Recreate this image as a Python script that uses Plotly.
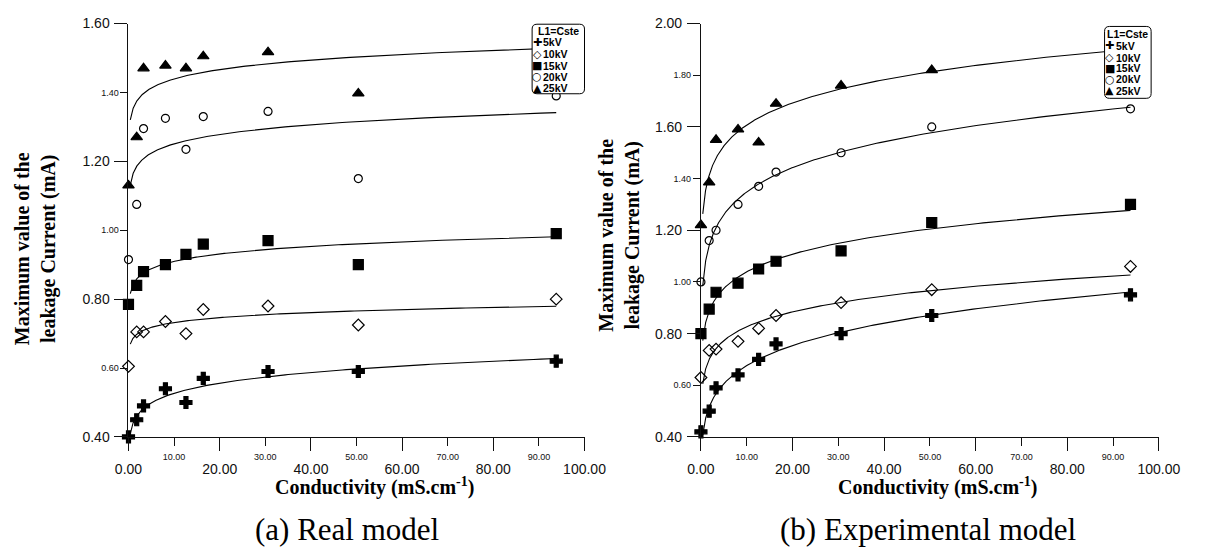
import numpy as np
import plotly.graph_objects as go

W, H = 1210, 555

# Conductivity of the pollution solutions (mS/cm)
conductivity = [0.0, 1.8, 3.3, 8.1, 12.6, 16.4, 30.6, 50.4, 93.8]
series_names = ["5kV", "10kV", "15kV", "20kV", "25kV"]

# (a) Real model: maximum leakage current (mA)
real_5kv = [0.40, 0.45, 0.49, 0.54, 0.50, 0.57, 0.59, 0.59, 0.62]
real_10kv = [0.605, 0.705, 0.705, 0.735, 0.70, 0.77, 0.78, 0.725, 0.80]
real_15kv = [0.785, 0.84, 0.88, 0.90, 0.93, 0.96, 0.97, 0.90, 0.99]
real_20kv = [0.915, 1.075, 1.295, 1.325, 1.235, 1.33, 1.345, 1.15, 1.39]
real_25kv = [1.13, 1.27, 1.47, 1.478, 1.47, 1.505, 1.517, 1.397, 1.53]

# (b) Experimental model: maximum leakage current (mA)
exp_5kv = [0.42, 0.50, 0.59, 0.64, 0.70, 0.76, 0.80, 0.87, 0.95]
exp_10kv = [0.63, 0.735, 0.74, 0.77, 0.82, 0.87, 0.92, 0.97, 1.06]
exp_15kv = [0.80, 0.895, 0.96, 0.995, 1.05, 1.08, 1.12, 1.23, 1.30]
exp_20kv = [1.00, 1.16, 1.20, 1.30, 1.37, 1.425, 1.50, 1.60, 1.67]
exp_25kv = [1.22, 1.385, 1.55, 1.59, 1.54, 1.69, 1.76, 1.82, 1.91]

x_major = [0, 20, 40, 60, 80, 100]
x_minor = [10, 30, 50, 70, 90]
real_y_major = [0.40, 0.80, 1.20, 1.60]
real_y_minor = [0.60, 1.00, 1.40]
exp_y_major = [0.40, 0.80, 1.20, 1.60, 2.00]
exp_y_minor = [0.60, 1.00, 1.40, 1.80]

FIT_X_START = 0.4  # trend lines start just right of the origin

SANS = "Liberation Sans, Arial, sans-serif"
SERIF = "Liberation Serif, Times New Roman, serif"
INK = "#111111"

symbols = ["cross", "diamond-open", "square", "circle-open", "triangle-up"]
sizes = [10, 9, 10, 8, 10]
legend_glyphs = ["\u271A", "\u25C7", "\u25A0", "\u25CB", "\u25B2"]


def px_x(p):
    return p / W


def px_y(p):
    return 1 - p / H


def power_fit(x, y):
    """Least squares fit of y = a * x**b over the points with x > 0."""
    x = np.asarray(x, float)
    y = np.asarray(y, float)
    m = x > 0
    b, ln_a = np.polyfit(np.log(x[m]), np.log(y[m]), 1)
    xs = np.geomspace(FIT_X_START, x[m].max(), 300)
    return xs, np.exp(ln_a) * xs ** b


fig = go.Figure()


def add_panel(series, xa, ya):
    for vals in series:
        xs, ys = power_fit(conductivity, vals)
        fig.add_trace(go.Scatter(x=xs, y=ys, mode="lines", xaxis=xa, yaxis=ya,
                                 line=dict(color="black", width=1.1),
                                 showlegend=False, hoverinfo="skip"))
    for vals, sym, sz, name in zip(series, symbols, sizes, series_names):
        fig.add_trace(go.Scatter(
            x=conductivity, y=vals, mode="markers", name=name,
            xaxis=xa, yaxis=ya, cliponaxis=False, showlegend=False,
            marker=dict(symbol=sym, size=sz, color="black",
                        line=dict(color="black", width=1.2))))


add_panel([real_5kv, real_10kv, real_15kv, real_20kv, real_25kv], "x", "y")
add_panel([exp_5kv, exp_10kv, exp_15kv, exp_20kv, exp_25kv], "x2", "y2")

# empty carriers so the overlaid label axes are rendered
for xa, ya in [("x3", "y"), ("x", "y3"), ("x4", "y2"), ("x2", "y4")]:
    fig.add_trace(go.Scatter(x=[None], y=[None], xaxis=xa, yaxis=ya,
                             mode="markers", showlegend=False, hoverinfo="skip"))

Y_DOM = [px_y(441.7), px_y(16)]
LEFT_DOM = [px_x(118), px_x(588)]
RIGHT_DOM = [px_x(708), px_x(1180)]


def major_axis(domain, anchor, vals, rng, **kw):
    return dict(domain=domain, anchor=anchor, range=rng, tickmode="array",
                tickvals=vals, ticktext=[f"{v:.2f}" for v in vals],
                ticks="outside", ticklen=13, tickwidth=1, tickcolor=INK,
                showline=True, linecolor=INK, linewidth=1,
                showgrid=False, zeroline=False,
                tickfont=dict(family=SANS, size=14, color=INK), **kw)


def minor_axis(over, anchor, vals, rng, ticklen, **kw):
    return dict(overlaying=over, anchor=anchor, range=rng, tickmode="array",
                tickvals=vals, ticktext=[f"{v:.2f}" for v in vals],
                ticks="outside", ticklen=ticklen, tickwidth=1, tickcolor=INK,
                showline=False, showgrid=False, zeroline=False,
                tickfont=dict(family=SANS, size=9, color=INK), **kw)


fig.update_layout(
    xaxis=major_axis(LEFT_DOM, "y", x_major, [0, 100], ticklabelstandoff=6),
    yaxis=major_axis(Y_DOM, "x", real_y_major, [0.40, 1.60], ticklabelstandoff=2),
    xaxis2=major_axis(RIGHT_DOM, "y2", x_major, [0, 100], ticklabelstandoff=6),
    yaxis2=major_axis(Y_DOM, "x2", exp_y_major, [0.40, 2.00], ticklabelstandoff=2),
    xaxis3=minor_axis("x", "y", x_minor, [0, 100], 8, ticklabelstandoff=3),
    yaxis3=minor_axis("y", "x", real_y_minor, [0.40, 1.60], 7, side="left"),
    xaxis4=minor_axis("x2", "y2", x_minor, [0, 100], 8, ticklabelstandoff=3),
    yaxis4=minor_axis("y2", "x2", exp_y_minor, [0.40, 2.00], 7, side="left"),
)

annotations = []
shapes = []


def note(cx, cy, text, font, **kw):
    annotations.append(dict(x=px_x(cx), y=px_y(cy), xref="paper", yref="paper",
                            showarrow=False, text=text, font=font,
                            xanchor=kw.pop("xanchor", "center"),
                            yanchor=kw.pop("yanchor", "middle"), **kw))


# axis titles and panel captions
for cx, cy in [(23, 248), (624, 234)]:
    note(cx, cy, "<b>Maximum value of the<br>leakage Current (mA)</b>",
         dict(family=SERIF, size=20, color="black"), textangle=-90, align="center")
for cx in [372, 952]:
    note(cx, 493, "<b>Conductivity (mS.cm<sup>-1</sup>)</b>",
         dict(family=SERIF, size=20, color="black"))
for cx, txt in [(343, "(a) Real model"), (942, "(b) Experimental model")]:
    note(cx, 537, txt, dict(family=SERIF, size=31, color="black"))


def rounded_box(x0, y0, x1, y1, r=5):
    def P(x, y):
        return f"{x / W:.5f},{1 - y / H:.5f}"
    return (f"M {P(x0 + r, y0)} L {P(x1 - r, y0)} Q {P(x1, y0)} {P(x1, y0 + r)} "
            f"L {P(x1, y1 - r)} Q {P(x1, y1)} {P(x1 - r, y1)} L {P(x0 + r, y1)} "
            f"Q {P(x0, y1)} {P(x0, y1 - r)} L {P(x0, y0 + r)} Q {P(x0, y0)} {P(x0 + r, y0)} Z")


def add_key(box, title_xy, rows_y, sym_x, label_x):
    x0, y0, x1, y1 = box
    shapes.append(dict(type="path", xref="paper", yref="paper", layer="above",
                       path=rounded_box(x0, y0, x1, y1),
                       fillcolor="white", line=dict(color="black", width=1)))
    note(title_xy[0], title_xy[1], "<b>L1=Cste</b>",
         dict(family=SANS, size=10.5, color="black"))
    for ry, glyph, name in zip(rows_y, legend_glyphs, series_names):
        note(sym_x, ry, glyph, dict(family="DejaVu Sans", size=11, color="black"))
        note(label_x, ry, f"<b>{name}</b>",
             dict(family=SANS, size=10.5, color="black"), xanchor="left")


add_key((534, 16.7, 588, 88.3), (561, 24), [35.5, 47.5, 59.5, 71, 82.5], 539.5, 543.5)
add_key((1124, 19, 1172, 93), (1148, 27), [39, 51, 62, 73.5, 85], 1129.5, 1134)

fig.update_layout(
    width=W, height=H, margin=dict(l=0, r=0, t=0, b=0),
    paper_bgcolor="white", plot_bgcolor="white",
    showlegend=False, annotations=annotations, shapes=shapes,
)

fig.write_html("out.html")
